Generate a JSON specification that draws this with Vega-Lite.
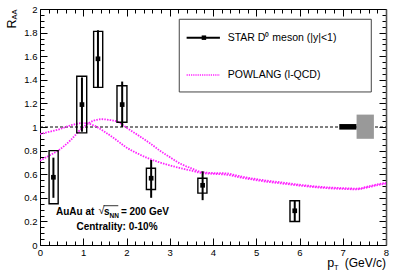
{
  "$schema": "https://vega.github.io/schema/vega-lite/v6.json",
  "width": 346,
  "height": 236,
  "autosize": {"type": "none"},
  "padding": {"left": 40, "top": 9, "right": 13, "bottom": 27},
  "config": {"view": {"stroke": null}, "text": {"font": "Liberation Sans", "color": "black"}},
  "data": {"values": [{}]},
  "datasets": {
    "points": [
      {"pt": 0.31, "raa": 0.574, "stat_lo": 0.40, "stat_hi": 0.74, "sys_lo": 0.35, "sys_hi": 0.80, "x_lo": 0.21, "x_hi": 0.42},
      {"pt": 0.97, "raa": 1.19, "stat_lo": 0.96, "stat_hi": 1.42, "sys_lo": 0.95, "sys_hi": 1.43, "x_lo": 0.85, "x_hi": 1.08},
      {"pt": 1.34, "raa": 1.578, "stat_lo": 1.33, "stat_hi": 1.82, "sys_lo": 1.336, "sys_hi": 1.81, "x_lo": 1.24, "x_hi": 1.45},
      {"pt": 1.90, "raa": 1.19, "stat_lo": 1.00, "stat_hi": 1.385, "sys_lo": 1.04, "sys_hi": 1.35, "x_lo": 1.78, "x_hi": 2.01},
      {"pt": 2.57, "raa": 0.566, "stat_lo": 0.40, "stat_hi": 0.72, "sys_lo": 0.47, "sys_hi": 0.65, "x_lo": 2.46, "x_hi": 2.67},
      {"pt": 3.76, "raa": 0.506, "stat_lo": 0.38, "stat_hi": 0.625, "sys_lo": 0.44, "sys_hi": 0.566, "x_lo": 3.65, "x_hi": 3.86},
      {"pt": 5.89, "raa": 0.29, "stat_lo": 0.20, "stat_hi": 0.375, "sys_lo": 0.199, "sys_hi": 0.375, "x_lo": 5.78, "x_hi": 6.0}
    ],
    "curves": [
      {"band": "a", "pt": 0, "raa": 0.94}, {"band": "a", "pt": 0.2, "raa": 0.958}, {"band": "a", "pt": 0.42, "raa": 0.978},
      {"band": "a", "pt": 0.72, "raa": 1.015}, {"band": "a", "pt": 0.96, "raa": 1.033}, {"band": "a", "pt": 1.1, "raa": 1.03},
      {"band": "a", "pt": 1.23, "raa": 1.015}, {"band": "a", "pt": 1.5, "raa": 0.958}, {"band": "a", "pt": 1.73, "raa": 0.9},
      {"band": "a", "pt": 1.96, "raa": 0.836}, {"band": "a", "pt": 2.27, "raa": 0.773}, {"band": "a", "pt": 2.57, "raa": 0.725},
      {"band": "a", "pt": 2.77, "raa": 0.7}, {"band": "a", "pt": 3.0, "raa": 0.675}, {"band": "a", "pt": 3.24, "raa": 0.652},
      {"band": "a", "pt": 3.5, "raa": 0.63}, {"band": "a", "pt": 3.74, "raa": 0.61}, {"band": "a", "pt": 4.0, "raa": 0.603},
      {"band": "a", "pt": 4.32, "raa": 0.595}, {"band": "a", "pt": 4.6, "raa": 0.575}, {"band": "a", "pt": 4.94, "raa": 0.553},
      {"band": "a", "pt": 5.25, "raa": 0.536}, {"band": "a", "pt": 5.55, "raa": 0.523}, {"band": "a", "pt": 6.09, "raa": 0.5},
      {"band": "a", "pt": 6.71, "raa": 0.48}, {"band": "a", "pt": 7.0, "raa": 0.475}, {"band": "a", "pt": 7.32, "raa": 0.472},
      {"band": "a", "pt": 7.6, "raa": 0.49}, {"band": "a", "pt": 7.86, "raa": 0.512}, {"band": "a", "pt": 8.0, "raa": 0.52},
      {"band": "b", "pt": 0, "raa": 0.715}, {"band": "b", "pt": 0.2, "raa": 0.755}, {"band": "b", "pt": 0.42, "raa": 0.8},
      {"band": "b", "pt": 0.72, "raa": 0.893}, {"band": "b", "pt": 0.96, "raa": 0.987}, {"band": "b", "pt": 1.11, "raa": 1.03},
      {"band": "b", "pt": 1.25, "raa": 1.055}, {"band": "b", "pt": 1.42, "raa": 1.066}, {"band": "b", "pt": 1.6, "raa": 1.06},
      {"band": "b", "pt": 1.8, "raa": 1.043}, {"band": "b", "pt": 2.03, "raa": 0.987}, {"band": "b", "pt": 2.27, "raa": 0.93},
      {"band": "b", "pt": 2.57, "raa": 0.855}, {"band": "b", "pt": 2.77, "raa": 0.8}, {"band": "b", "pt": 3.0, "raa": 0.745},
      {"band": "b", "pt": 3.24, "raa": 0.69}, {"band": "b", "pt": 3.5, "raa": 0.65}, {"band": "b", "pt": 3.74, "raa": 0.618},
      {"band": "b", "pt": 4.0, "raa": 0.61}, {"band": "b", "pt": 4.3, "raa": 0.607}, {"band": "b", "pt": 4.6, "raa": 0.585},
      {"band": "b", "pt": 4.94, "raa": 0.562}, {"band": "b", "pt": 5.25, "raa": 0.545}, {"band": "b", "pt": 5.55, "raa": 0.532},
      {"band": "b", "pt": 6.09, "raa": 0.507}, {"band": "b", "pt": 6.71, "raa": 0.487}, {"band": "b", "pt": 7.0, "raa": 0.482},
      {"band": "b", "pt": 7.32, "raa": 0.478}, {"band": "b", "pt": 7.6, "raa": 0.497}, {"band": "b", "pt": 7.86, "raa": 0.518},
      {"band": "b", "pt": 8.0, "raa": 0.526}
    ],
    "norm": [
      {"kind": "stat", "x1": 6.92, "x2": 7.32, "y1": 0.978, "y2": 1.025},
      {"kind": "sys", "x1": 7.32, "x2": 7.72, "y1": 0.9, "y2": 1.105}
    ]
  },
  "layer": [
    {
      "mark": {"type": "rule", "color": "black", "strokeWidth": 1, "strokeDash": [3, 2]},
      "encoding": {
        "x": {"datum": 0, "axis": null},
        "x2": {"datum": 8},
        "y": {"datum": 1, "axis": null}
      }
    },
    {
      "data": {"name": "curves"},
      "mark": {"type": "line", "color": "#ff22ff", "strokeWidth": 1.8, "strokeDash": [1.5, 1.2], "interpolate": "monotone"},
      "encoding": {
        "detail": {"field": "band"},
        "x": {
          "field": "pt", "type": "quantitative",
          "scale": {"domain": [0, 8], "nice": false, "zero": false},
          "axis": {
            "orient": "bottom", "title": null, "grid": false,
            "values": [0,0.2,0.4,0.6,0.8,1,1.2,1.4,1.6,1.8,2,2.2,2.4,2.6,2.8,3,3.2,3.4,3.6,3.8,4,4.2,4.4,4.6,4.8,5,5.2,5.4,5.6,5.8,6,6.2,6.4,6.6,6.8,7,7.2,7.4,7.6,7.8,8],
            "labelExpr": "datum.value % 1 === 0 ? format(datum.value, 'd') : ''",
            "tickSize": {"condition": {"test": "datum.value % 1 === 0", "value": -7}, "value": -4},
            "domainColor": "black", "tickColor": "black", "tickWidth": 1,
            "labelFont": "Liberation Sans", "labelFontSize": 9.5, "labelColor": "black",
            "labelPadding": 9, "labelFlush": false, "labelOverlap": false, "labelBound": false
          }
        },
        "y": {
          "field": "raa", "type": "quantitative",
          "scale": {"domain": [0, 2], "nice": false, "zero": false},
          "axis": {
            "orient": "left", "title": null, "grid": false,
            "values": [0,0.05,0.1,0.15,0.2,0.25,0.3,0.35,0.4,0.45,0.5,0.55,0.6,0.65,0.7,0.75,0.8,0.85,0.9,0.95,1,1.05,1.1,1.15,1.2,1.25,1.3,1.35,1.4,1.45,1.5,1.55,1.6,1.65,1.7,1.75,1.8,1.85,1.9,1.95,2],
            "labelExpr": "abs(datum.value*5 - round(datum.value*5)) < 0.000001 ? format(datum.value, '~g') : ''",
            "tickSize": {"condition": {"test": "abs(datum.value*5 - round(datum.value*5)) < 0.000001", "value": -7}, "value": -4},
            "domainColor": "black", "tickColor": "black", "tickWidth": 1,
            "labelFont": "Liberation Sans", "labelFontSize": 9.5, "labelColor": "black",
            "labelPadding": 10, "labelFlush": false, "labelOverlap": false, "labelBound": false, "labelLimit": 100
          }
        }
      }
    },
    {
      "data": {"name": "points"},
      "mark": {"type": "rect", "fill": null, "fillOpacity": 0, "stroke": "black", "strokeWidth": 1.4},
      "encoding": {
        "x": {
          "field": "x_lo", "type": "quantitative",
          "scale": {"domain": [0, 8], "nice": false, "zero": false},
          "axis": {
            "orient": "top", "title": null, "grid": false, "labels": false,
            "values": [0,0.2,0.4,0.6,0.8,1,1.2,1.4,1.6,1.8,2,2.2,2.4,2.6,2.8,3,3.2,3.4,3.6,3.8,4,4.2,4.4,4.6,4.8,5,5.2,5.4,5.6,5.8,6,6.2,6.4,6.6,6.8,7,7.2,7.4,7.6,7.8,8],
            "tickSize": {"condition": {"test": "datum.value % 1 === 0", "value": -7}, "value": -4},
            "domainColor": "black", "tickColor": "black", "tickWidth": 1
          }
        },
        "x2": {"field": "x_hi"},
        "y": {
          "field": "sys_lo", "type": "quantitative",
          "scale": {"domain": [0, 2], "nice": false, "zero": false},
          "axis": {
            "orient": "right", "title": null, "grid": false, "labels": false,
            "values": [0,0.05,0.1,0.15,0.2,0.25,0.3,0.35,0.4,0.45,0.5,0.55,0.6,0.65,0.7,0.75,0.8,0.85,0.9,0.95,1,1.05,1.1,1.15,1.2,1.25,1.3,1.35,1.4,1.45,1.5,1.55,1.6,1.65,1.7,1.75,1.8,1.85,1.9,1.95,2],
            "tickSize": {"condition": {"test": "abs(datum.value*5 - round(datum.value*5)) < 0.000001", "value": -7}, "value": -4},
            "domainColor": "#555555", "domainWidth": 1.6, "tickColor": "black", "tickWidth": 1
          }
        },
        "y2": {"field": "sys_hi"}
      }
    },
    {
      "data": {"name": "points"},
      "mark": {"type": "rule", "color": "black", "strokeWidth": 2},
      "encoding": {
        "x": {"field": "pt", "type": "quantitative", "axis": null},
        "y": {"field": "stat_lo", "type": "quantitative", "axis": null},
        "y2": {"field": "stat_hi"}
      }
    },
    {
      "data": {"name": "points"},
      "mark": {"type": "point", "shape": "square", "filled": true, "color": "black", "size": 22, "opacity": 1},
      "encoding": {
        "x": {"field": "pt", "type": "quantitative", "axis": null},
        "y": {"field": "raa", "type": "quantitative", "axis": null}
      }
    },
    {
      "data": {"name": "norm"},
      "mark": {"type": "rect", "strokeWidth": 0},
      "encoding": {
        "x": {"field": "x1", "type": "quantitative", "axis": null},
        "x2": {"field": "x2"},
        "y": {"field": "y1", "type": "quantitative", "axis": null},
        "y2": {"field": "y2"},
        "color": {"field": "kind", "type": "nominal", "scale": {"domain": ["stat", "sys"], "range": ["black", "#999999"]}, "legend": null}
      }
    },
    {
      "mark": {"type": "rect", "fill": null, "fillOpacity": 0, "stroke": "#444444", "strokeWidth": 1},
      "encoding": {
        "x": {"datum": 3.22, "axis": null}, "x2": {"datum": 7.66},
        "y": {"datum": 1.297, "axis": null}, "y2": {"datum": 1.913}
      }
    },
    {
      "mark": {"type": "rule", "color": "black", "strokeWidth": 2},
      "encoding": {
        "x": {"datum": 3.39, "axis": null}, "x2": {"datum": 4.16},
        "y": {"datum": 1.757, "axis": null}
      }
    },
    {
      "mark": {"type": "point", "shape": "square", "filled": true, "color": "black", "size": 20, "opacity": 1},
      "encoding": {
        "x": {"datum": 3.79, "axis": null},
        "y": {"datum": 1.757, "axis": null}
      }
    },
    {
      "mark": {"type": "rule", "color": "#ff22ff", "strokeWidth": 1.6, "strokeDash": [1.2, 1]},
      "encoding": {
        "x": {"datum": 3.39, "axis": null}, "x2": {"datum": 4.16},
        "y": {"datum": 1.441, "axis": null}
      }
    },
    {
      "mark": {"type": "text", "text": "STAR D⁰ meson (|y|<1)", "align": "left", "baseline": "middle", "fontSize": 10.5},
      "encoding": {"x": {"datum": 4.34, "axis": null}, "y": {"datum": 1.757, "axis": null}}
    },
    {
      "mark": {"type": "text", "text": "POWLANG (l-QCD)", "align": "left", "baseline": "middle", "fontSize": 10.5},
      "encoding": {"x": {"datum": 4.34, "axis": null}, "y": {"datum": 1.441, "axis": null}}
    },
    {
      "mark": {"type": "text", "text": "AuAu at", "align": "left", "baseline": "middle", "fontSize": 10, "fontWeight": "bold"},
      "encoding": {"x": {"datum": 0.37, "axis": null}, "y": {"datum": 0.282, "axis": null}}
    },
    {
      "mark": {"type": "text", "text": "√", "align": "left", "baseline": "middle", "fontSize": 11},
      "encoding": {"x": {"datum": 1.355, "axis": null}, "y": {"datum": 0.285, "axis": null}}
    },
    {
      "mark": {"type": "text", "text": "s", "align": "left", "baseline": "middle", "fontSize": 10, "fontWeight": "bold"},
      "encoding": {"x": {"datum": 1.48, "axis": null}, "y": {"datum": 0.282, "axis": null}}
    },
    {
      "mark": {"type": "text", "text": "NN", "align": "left", "baseline": "middle", "fontSize": 6.5, "fontWeight": "bold"},
      "encoding": {"x": {"datum": 1.607, "axis": null}, "y": {"datum": 0.25, "axis": null}}
    },
    {
      "mark": {"type": "rule", "color": "black", "strokeWidth": 0.8},
      "encoding": {"x": {"datum": 1.47, "axis": null}, "x2": {"datum": 1.81}, "y": {"datum": 0.333, "axis": null}}
    },
    {
      "mark": {"type": "text", "text": "= 200 GeV", "align": "left", "baseline": "middle", "fontSize": 10, "fontWeight": "bold"},
      "encoding": {"x": {"datum": 1.87, "axis": null}, "y": {"datum": 0.282, "axis": null}}
    },
    {
      "mark": {"type": "text", "text": "Centrality: 0-10%", "align": "center", "baseline": "middle", "fontSize": 10, "fontWeight": "bold"},
      "encoding": {"x": {"datum": 1.78, "axis": null}, "y": {"datum": 0.155, "axis": null}}
    },
    {
      "mark": {"type": "text", "text": "p", "align": "left", "baseline": "middle", "fontSize": 12.5},
      "encoding": {"x": {"datum": 6.64, "axis": null}, "y": {"datum": -0.15, "axis": null}}
    },
    {
      "mark": {"type": "text", "text": "T", "align": "left", "baseline": "middle", "fontSize": 7.5},
      "encoding": {"x": {"datum": 6.8, "axis": null}, "y": {"datum": -0.195, "axis": null}}
    },
    {
      "mark": {"type": "text", "text": "(GeV/c)", "align": "right", "baseline": "middle", "fontSize": 12},
      "encoding": {"x": {"datum": 8.0, "axis": null}, "y": {"datum": -0.155, "axis": null}}
    },
    {
      "mark": {"type": "text", "text": "R", "align": "center", "baseline": "middle", "fontSize": 12.5, "angle": 270},
      "encoding": {"x": {"datum": -0.654, "axis": null}, "y": {"datum": 1.873, "axis": null}}
    },
    {
      "mark": {"type": "text", "text": "AA", "align": "center", "baseline": "middle", "fontSize": 7.5, "angle": 270},
      "encoding": {"x": {"datum": -0.571, "axis": null}, "y": {"datum": 1.953, "axis": null}}
    }
  ],
  "resolve": {"axis": {"x": "independent", "y": "independent"}}
}
